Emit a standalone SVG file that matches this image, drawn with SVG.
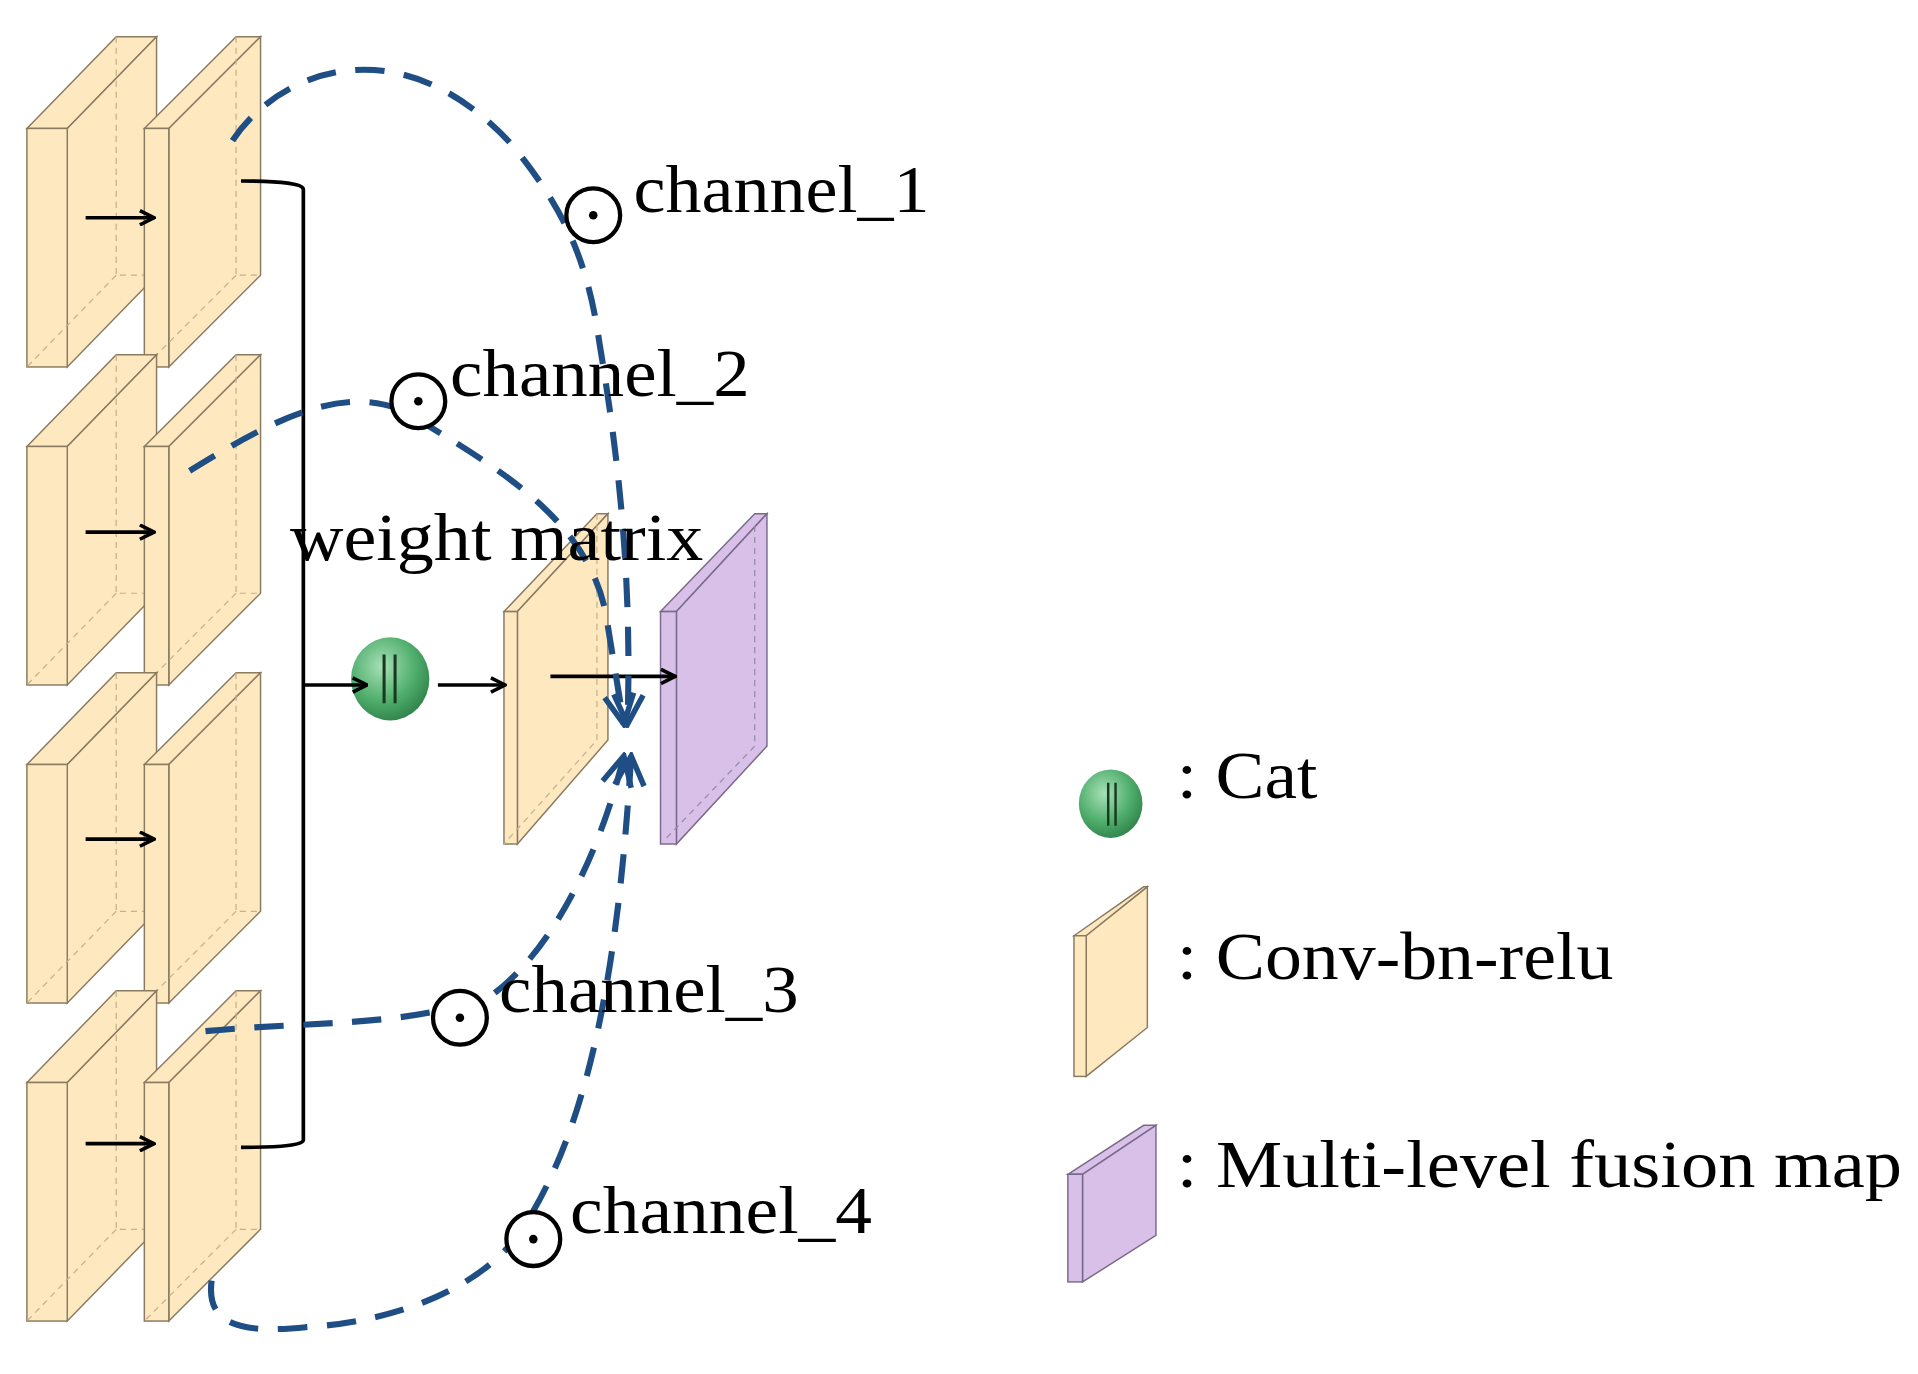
<svg xmlns="http://www.w3.org/2000/svg" width="1918" height="1374" viewBox="0 0 1918 1374">
<style>
.y{fill:#fde8c0;stroke:#8a7a60;stroke-width:1.2}
.yd{fill:none;stroke:#c8b088;stroke-width:1;stroke-dasharray:5 4}
.p{fill:#d8c0e8;stroke:#7a6a8a;stroke-width:1.2}
.ln{fill:none;stroke:#000;stroke-width:3}
.ds{fill:none;stroke:#1f4e85;stroke-width:5;stroke-dasharray:24 16}
.t{font-family:"Liberation Serif",serif;font-size:56px;fill:#000}
.od{fill:#fff;stroke:#000;stroke-width:3.5}
</style>
<defs>
<marker id="ar" viewBox="0 0 12 12" refX="11" refY="6" markerWidth="14" markerHeight="14" markerUnits="userSpaceOnUse" orient="auto"><path d="M1,1 L11,6 L1,11" fill="none" stroke="#000" stroke-width="2.5"/></marker>
<marker id="bl" viewBox="0 0 10 10" refX="9" refY="5" markerWidth="6" markerHeight="6" orient="auto"><path d="M1,1 L9,5 L1,9" fill="none" stroke="#1f4e85" stroke-width="1.5"/></marker>
<radialGradient id="g" cx="0.4" cy="0.35" r="0.7"><stop offset="0" stop-color="#a8e0b8"/><stop offset="0.6" stop-color="#4fae6c"/><stop offset="1" stop-color="#2f8048"/></radialGradient>
<g id="slabA"><path class="y" d="M22,105 L95,30 L128,30 L55,105 Z"/><path class="y" d="M55,105 L128,30 L128,225 L55,300 Z"/><rect class="y" x="22" y="105" width="33" height="195"/><path class="yd" d="M95,30 V225 H128 M95,225 L22,300"/></g>
<g id="slabB"><path class="y" d="M118,105 L193,30 L213,30 L138,105 Z"/><path class="y" d="M138,105 L213,30 L213,225 L138,300 Z"/><rect class="y" x="118" y="105" width="20" height="195"/><path class="yd" d="M193,30 V225 H213 M193,225 L118,300"/></g>
</defs>
<g transform="scale(1.2232)">
<g id="row1"><use href="#slabA"/><use href="#slabB"/><line class="ln" x1="70" y1="178" x2="126" y2="178" marker-end="url(#ar)"/></g>
<g id="row2" transform="translate(0,260)"><use href="#slabA"/><use href="#slabB"/><line class="ln" x1="70" y1="175" x2="126" y2="175" marker-end="url(#ar)"/></g>
<g id="row3" transform="translate(0,520)"><use href="#slabA"/><use href="#slabB"/><line class="ln" x1="70" y1="166" x2="126" y2="166" marker-end="url(#ar)"/></g>
<g id="row4" transform="translate(0,780)"><use href="#slabA"/><use href="#slabB"/><line class="ln" x1="70" y1="155" x2="126" y2="155" marker-end="url(#ar)"/></g>
<g id="cat"><ellipse cx="319" cy="555" rx="32" ry="34" fill="url(#g)"/><path d="M314,535 V575 M323,535 V575" stroke="#1a3a20" stroke-width="2.5"/></g>
<g id="mid"><path class="y" d="M412,500 L488,420 L497,420 L423,500 Z"/><path class="y" d="M423,500 L497,420 L497,605 L423,690 Z"/><rect class="y" x="412" y="500" width="11" height="190"/><path class="yd" d="M488,420 V605 L412,690"/></g>
<g id="fusion"><path class="p" d="M540,500 L617,420 L627,420 L553,500 Z"/><path class="p" d="M553,500 L627,420 L627,610 L553,690 Z"/><rect class="p" x="540" y="500" width="13" height="190"/><path d="M617,430 V610 L545,685" fill="none" stroke="#9a88aa" stroke-width="1" stroke-dasharray="5 4"/></g>
<g id="connectors">
<path class="ln" d="M197,148 Q248,148 248,155 V932 Q248,938 197,938"/>
<line class="ln" x1="248" y1="560" x2="300" y2="560" marker-end="url(#ar)"/>
<line class="ln" x1="358" y1="560" x2="413" y2="560" marker-end="url(#ar)"/>
<line class="ln" x1="450" y1="553" x2="552" y2="553" marker-end="url(#ar)"/>
<path class="ds" d="M190,115 C230,55 330,20 420,120 C460,170 480,210 490,280 C505,370 517,470 513,592" marker-end="url(#bl)"/>
<path class="ds" d="M155,385 C220,345 290,305 345,345 C420,390 480,430 495,500 L510,592" marker-end="url(#bl)"/>
<path class="ds" d="M168,843 C250,835 330,840 400,815 C450,780 490,700 510,618" marker-end="url(#bl)"/>
<path class="ds" d="M173,1047 C168,1085 200,1090 250,1085 C330,1080 400,1050 430,1000 C480,920 505,800 516,618" marker-end="url(#bl)"/>
</g>
<g id="labels">
<circle class="od" cx="485" cy="176" r="22"/><circle cx="485" cy="176" r="3.5"/>
<circle class="od" cx="342" cy="328" r="22"/><circle cx="342" cy="328" r="3.5"/>
<circle class="od" cx="376" cy="832" r="22"/><circle cx="376" cy="832" r="3.5"/>
<circle class="od" cx="436" cy="1013" r="22"/><circle cx="436" cy="1013" r="3.5"/>
<text class="t" x="518" y="173" textLength="242" lengthAdjust="spacingAndGlyphs">channel_1</text>
<text class="t" x="368" y="324" textLength="245" lengthAdjust="spacingAndGlyphs">channel_2</text>
<text class="t" x="408" y="827" textLength="245" lengthAdjust="spacingAndGlyphs">channel_3</text>
<text class="t" x="466" y="1008" textLength="247" lengthAdjust="spacingAndGlyphs">channel_4</text>
<text class="t" x="237" y="458" textLength="338" lengthAdjust="spacingAndGlyphs">weight  matrix</text>
</g>
<g id="legend">
<ellipse cx="908" cy="657" rx="26" ry="28" fill="url(#g)"/><path d="M906,640 V675 M912,640 V675" stroke="#1a3a20" stroke-width="2"/>
<text class="t" x="962" y="652" textLength="115" lengthAdjust="spacingAndGlyphs">: Cat</text>
<path class="y" d="M878,765 L935,725 L938,725 L888,765 Z"/><path class="y" d="M888,765 L938,725 L938,840 L888,880 Z"/><rect class="y" x="878" y="765" width="10" height="115"/>
<text class="t" x="962" y="800" textLength="357" lengthAdjust="spacingAndGlyphs">: Conv-bn-relu</text>
<path class="p" d="M873,960 L935,920 L945,920 L885,960 Z"/><path class="p" d="M885,960 L945,920 L945,1010 L885,1048 Z"/><rect class="p" x="873" y="960" width="12" height="88"/>
<text class="t" x="962" y="970" textLength="593" lengthAdjust="spacingAndGlyphs">: Multi-level  fusion  map</text>
</g>
</g>
</svg>
